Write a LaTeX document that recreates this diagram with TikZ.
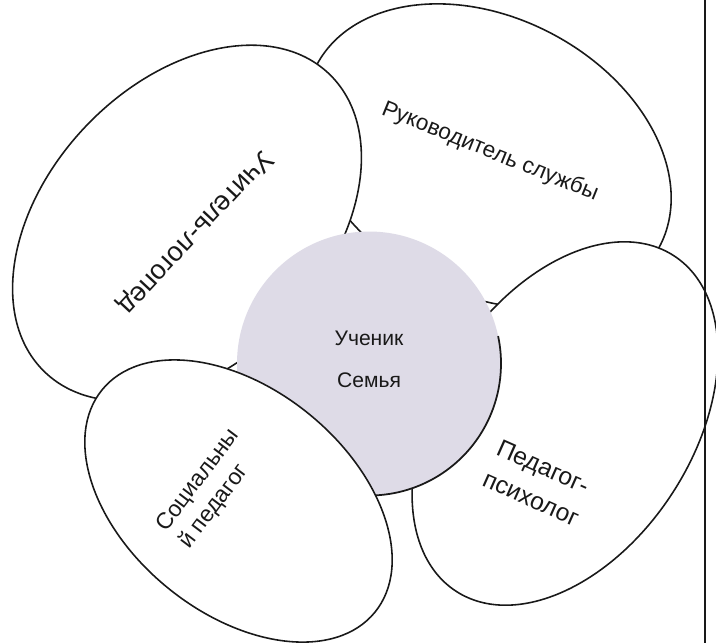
\documentclass[tikz,border=0pt]{standalone}
\usepackage{fontspec}
\setmainfont{Liberation Sans}
\usetikzlibrary{shapes.geometric}
\definecolor{circfill}{RGB}{222,219,231}
\definecolor{ink}{RGB}{25,25,25}
\tikzset{
  petal/.style={draw=ink, fill=white, ellipse, line width=0.9pt, inner sep=0pt, outer sep=0pt},
  lbl/.style={text=ink, inner sep=0pt},
}
\begin{document}
\begin{tikzpicture}
\useasboundingbox (0,0) rectangle (14.32,-12.86);
\clip (0,0) rectangle (14.32,-12.86);
% petals
\node[petal, minimum width=7.76cm, minimum height=5.52cm, rotate=-28] (rukov) at (9.76,-3.12) {};
\node[petal, minimum width=8.24cm, minimum height=5.6cm, rotate=46.5] (uchit) at (3.74,-4.46) {};
\node[petal, minimum width=8.0cm, minimum height=5.12cm, rotate=57] (pedag) at (11.3,-8.47) {};
% centre
\node[circle, fill=circfill, minimum size=5.28cm, inner sep=0pt, outer sep=0pt] (center) at (7.38,-7.27) {};
\draw[ink, line width=1pt] (center.12) arc[start angle=12, end angle=-100, radius=2.64cm];
\node[petal, minimum width=7.04cm, minimum height=4.48cm, rotate=-39.2] (social) at (4.77,-10.02) {};
% right border line
\coordinate (vtop) at (14.1,0);
\coordinate (vbot) at (14.1,-12.86);
\draw[ink, line width=0.8pt] (vtop) -- (vbot);
% labels
\node[lbl, font=\fontsize{15.5}{18}\selectfont, rotate=-133] (tuchit) at (3.9,-4.64) {Учитель-логопед};
\node[lbl, font=\fontsize{12.8}{15}\selectfont, rotate=-22] (trukov) at (9.8,-3.04) {Руководитель службы};
\node[lbl, font=\fontsize{14}{19.3}\selectfont, rotate=-24, align=left] (tpedag) at (10.76,-9.66) {Педагог-\\психолог};
\node[lbl, font=\fontsize{13}{16.5}\selectfont, rotate=53, align=left] (tsocial) at (4.2,-9.78) {Социальны\\й педагог};
\node[lbl, font=\fontsize{12}{14}\selectfont] (tuchen) at (7.38,-6.76) {Ученик};
\node[lbl, font=\fontsize{12}{14}\selectfont] (tsem) at (7.38,-7.6) {Семья};
\end{tikzpicture}
\end{document}
